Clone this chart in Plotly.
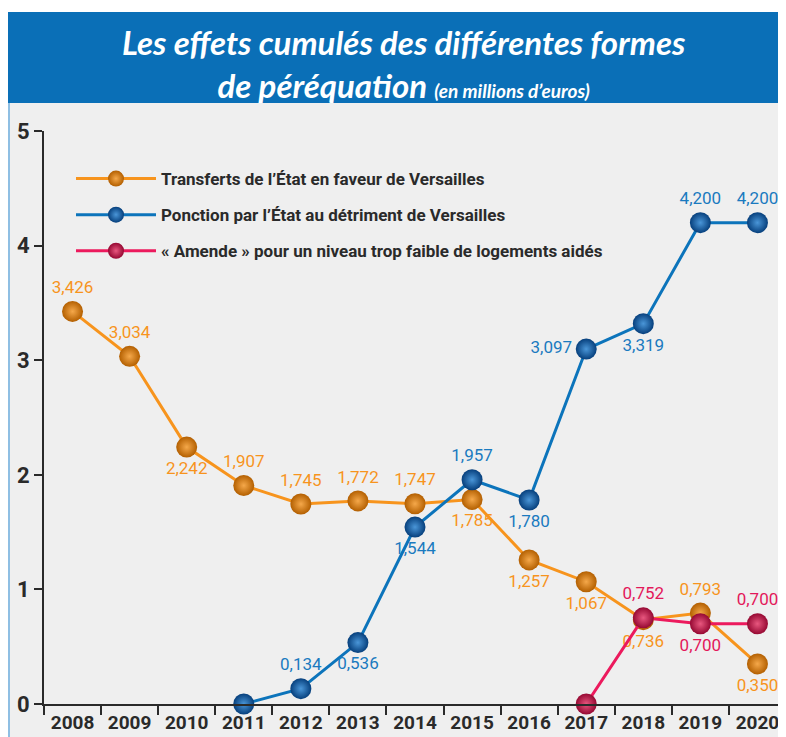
import plotly.graph_objects as go

years = [str(y) for y in range(2008, 2021)]

transferts_years = years
transferts = [3.426, 3.034, 2.242, 1.907, 1.745, 1.772, 1.747, 1.785, 1.257, 1.067, 0.736, 0.793, 0.350]
ponction_years = years[3:]
ponction = [0.0, 0.134, 0.536, 1.544, 1.957, 1.780, 3.097, 3.319, 4.200, 4.200]
amende_years = years[9:]
amende = [0.0, 0.752, 0.700, 0.700]

names = ["Transferts de l’État en faveur de Versailles",
         "Ponction par l’État au détriment de Versailles",
         "« Amende » pour un niveau trop faible de logements aidés"]

pos_transferts = ["top center", "top center", "bottom center", "top center", "top center", "top center",
                  "top center", "bottom center", "bottom center", "bottom center", "bottom center",
                  "top center", "bottom center"]
pos_ponction = ["top center", "top center", "bottom center", "bottom center", "top center", "bottom center",
                "middle left", "bottom center", "top center", "top center"]
pos_amende = ["top center", "top center", "bottom center", "top center"]


def fmt(vals):
    return ["" if v == 0 else f"{v:.3f}".replace(".", ",") for v in vals]


FONT = "Roboto, sans-serif"

# The page places the figure at (8, 8); everything below is in figure pixels.
W, H = 778, 729
L, R, T, B = 36, 0, 123, 33
pw, ph = W - L - R, H - T - B


def px_x(x):
    return (x - L) / pw


def px_y(y):
    return (H - B - y) / ph


fig = go.Figure()

series = [
    (transferts_years, transferts, names[0], "#f7941d", "#b35f00", "#f5a84a", pos_transferts, "#f7941d"),
    (ponction_years, ponction, names[1], "#0c74bb", "#063f7c", "#4a96d8", pos_ponction, "#1a7abf"),
    (amende_years, amende, names[2], "#ec1a5d", "#960832", "#e8577f", pos_amende, "#e3185a"),
]

for i, (xs, ys, name, lc, mc, gc, pos, tc) in enumerate(series):
    fig.add_trace(go.Scatter(
        x=xs, y=ys, name=name, mode="lines+markers+text",
        legendgroup=f"g{i}",
        line=dict(color=lc, width=3),
        marker=dict(size=21, color=mc, line=dict(width=0),
                    gradient=dict(type="radial", color=gc)),
        text=fmt(ys), textposition=pos,
        textfont=dict(family=FONT, size=17, color=tc),
        cliponaxis=False, hoverinfo="skip",
    ))

shapes = [
    # blue banner
    dict(type="rect", xref="paper", yref="paper", x0=px_x(-2), x1=px_x(W + 2), y0=px_y(95), y1=px_y(4),
         fillcolor="#0a6fb7", line_width=0, layer="below"),
    # white strip above banner
    dict(type="rect", xref="paper", yref="paper", x0=px_x(-2), x1=px_x(W + 2), y0=px_y(4), y1=px_y(0),
         fillcolor="white", line_width=0, layer="below"),
    # light blue left border of panel
    dict(type="line", xref="paper", yref="paper", x0=px_x(1), x1=px_x(1), y0=px_y(H), y1=px_y(95),
         line=dict(color="#8fbfe3", width=2), layer="below"),
]

fig.update_layout(
    width=W, height=H,
    margin=dict(l=L, r=R, t=T, b=B, pad=0, autoexpand=False),
    paper_bgcolor="#efefef", plot_bgcolor="#efefef",
    shapes=shapes,
    showlegend=True,
    legend=dict(x=px_x(63), y=px_y(153), xanchor="left", yanchor="top",
                bgcolor="rgba(0,0,0,0)", traceorder="grouped", tracegroupgap=11,
                itemwidth=80,
                font=dict(family=FONT, size=17, color="#2a2a2a", weight="bold")),
    annotations=[dict(
        xref="paper", yref="paper", x=px_x(395), y=px_y(55), xanchor="center", yanchor="middle",
        text="<i>Les effets cumulés des différentes formes<br>de péréquation <span style='font-size:19px'>(en millions d’euros)</span></i>",
        showarrow=False, align="center",
        font=dict(family="Lato, sans-serif", size=33, color="white", weight="bold"),
    )],
    xaxis=dict(type="category", categoryorder="array", categoryarray=years, automargin=False,
               range=[-0.5, 12.5], tickson="boundaries", ticks="outside", ticklen=9,
               tickwidth=2, tickcolor="#2a2a2a", showline=True, linecolor="#2a2a2a", linewidth=2,
               showgrid=False, zeroline=False, fixedrange=True, tickangle=0,
               tickfont=dict(family=FONT, size=19, color="#2a2a2a", weight="bold")),
    yaxis=dict(range=[0, 5], dtick=1, ticks="outside", ticklen=8, tickwidth=2, automargin=False,
               tickcolor="#2a2a2a", showline=True, linecolor="#2a2a2a", linewidth=2,
               showgrid=False, zeroline=False, fixedrange=True,
               tickfont=dict(family=FONT, size=22, color="#2a2a2a", weight="bold")),
)

fig.write_html("out.html")
